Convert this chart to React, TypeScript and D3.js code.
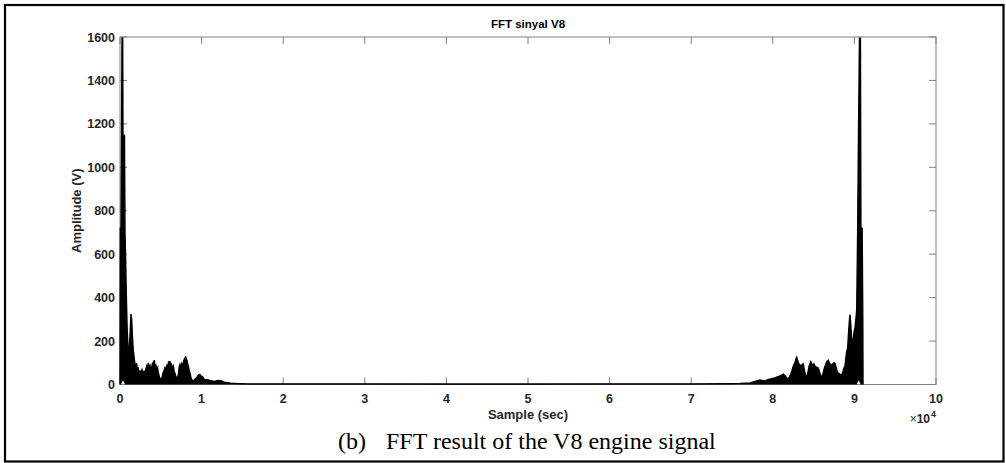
import React from 'react';
import * as d3 from 'd3';

// Upper envelope of the FFT magnitude (sample index, amplitude V)
const upperX = [
  0, 37, 123, 200, 245, 330, 368, 450, 550, 613, 700, 770, 860, 940, 1017, 1100, 1225, 1348, 1430, 1510,
  1630, 1780, 1900, 2047, 2130, 2200, 2330, 2451, 2580, 2700, 2850, 2950, 3064, 3170, 3270, 3370, 3468,
  3570, 3680, 3780, 3885, 3960, 4040, 4120, 4203, 4300, 4410, 4520, 4620, 4680, 4740, 4820, 4902, 5000,
  5110, 5190, 5270, 5400, 5515, 5640, 5760, 5850, 5940, 6030, 6127, 6220, 6310, 6420, 6532, 6640, 6740,
  6850, 6949, 7050, 7150, 7250, 7353, 7450, 7560, 7650, 7757, 7830, 7900, 7980, 8052, 8130, 8210, 8290,
  8370, 8480, 8580, 8680, 8787, 8900, 9070, 9200, 9400, 9520, 9620, 9720, 9804, 9950, 10110, 10250, 10417,
  10700, 11030, 11300, 11642, 11850, 12010, 12250, 12463, 12650, 12870, 13050, 13235, 13600, 14090, 14500,
  14914, 15700, 16544, 20000, 30000, 40000, 50000, 60000, 70000, 74500, 75981, 77207,
  78432, 78800, 79050, 79350, 79658, 80000, 80250, 80479, 80800, 81050, 81288, 81500, 81700, 81900, 82050,
  82200, 82350, 82513, 82700, 82850, 82929, 83050, 83200, 83334, 83450, 83600, 83738, 83850, 84000, 84153,
  84300, 84450, 84644, 84800, 84950, 85050, 85172, 85350, 85450, 85576, 85750, 85870, 85993, 86150, 86280,
  86397, 86550, 86680, 86802, 86950, 87100, 87218, 87400, 87500, 87623, 87800, 87900, 88028, 88200, 88300,
  88444, 88600, 88700, 88848, 88950, 89050, 89179, 89300, 89400, 89462, 89550, 89650, 89742, 89850, 89950,
  90074, 90180, 90280, 90400, 90500, 90620, 90740, 90800, 90950, 91030, 91060,
];
const upperY = [
  0, 720, 720, 1240, 1595, 1595, 1148, 1148, 1148, 700, 560, 420, 280, 200, 127, 150, 230, 324, 300, 230,
  158, 110, 75, 98, 65, 80, 55, 62, 50, 68, 48, 60, 52, 72, 85, 70, 100,
  80, 88, 65, 78, 95, 100, 88, 112, 80, 88, 70, 78, 55, 50, 35, 30, 25,
  22, 40, 52, 65, 78, 70, 88, 80, 100, 92, 108, 85, 92, 75, 85, 60, 52,
  35, 28, 35, 45, 80, 92, 78, 95, 85, 100, 112, 118, 110, 130, 115, 112, 95,
  85, 65, 52, 35, 22, 20, 18, 25, 32, 38, 44, 40, 46, 38, 36, 28, 22,
  22, 19, 16, 14, 17, 19, 18, 17, 12, 10, 9, 8, 6, 5, 4,
  4, 3, 3, 3, 3, 2, 2, 3, 3, 4, 5, 7,
  21, 18, 16, 22, 25, 28, 30, 34, 38, 42, 48, 40, 30, 26, 35,
  48, 65, 85, 100, 120, 126, 110, 95, 90, 80, 92, 96, 70, 45, 32,
  55, 85, 105, 95, 88, 95, 84, 80, 78, 76, 55, 40, 34, 50, 70,
  84, 100, 108, 112, 98, 92, 90, 96, 100, 98, 75, 58, 52, 48, 42,
  45, 60, 75, 85, 120, 150, 170, 250, 300, 322, 280, 220, 190, 200, 240,
  262, 300, 343, 710, 1148, 1594, 1594, 720, 720, 300, 0,
];

// Lower envelope (small gaps above zero next to the two main peaks)
const lowerX = [0, 123, 368, 613, 90280, 90525, 90770, 91060];
const lowerY = [0, 0, 20, 0, 0, 20, 0, 0];

const yTicks = [0, 200, 400, 600, 800, 1000, 1200, 1400, 1600];
const xTicks = [0, 10000, 20000, 30000, 40000, 50000, 60000, 70000, 80000, 90000, 100000];
const xTickLabels = ['0', '1', '2', '3', '4', '5', '6', '7', '8', '9', '10'];

const titleText = 'FFT sinyal V8';
const xLabel = 'Sample (sec)';
const yLabel = 'Amplitude (V)';
const captionTag = '(b)';
const captionText = 'FFT result of the V8 engine signal';

export default function App() {
  const W = 1006;
  const H = 463;
  const L = 120, R = 936, T = 37, B = 384.5;
  const x = d3.scaleLinear().domain([0, 100000]).range([L, R]);
  const y = d3.scaleLinear().domain([0, 1600]).range([B, T]);

  const upper = upperX.map((v, i) => [v, upperY[i]] as [number, number]);
  const lower = lowerX.map((v, i) => [v, lowerY[i]] as [number, number]).reverse();
  const poly = upper.concat(lower);
  const line = d3.line<[number, number]>().x(d => x(d[0])).y(d => y(d[1]));
  const areaPath = line(poly) + 'Z';
  const upperPath = line(upper) as string;

  const axisColor = '#808080';
  const textColor = '#262626';
  const font = 'Liberation Sans, Arial, Helvetica, sans-serif';
  const tickLen = 7;

  return (
    <svg width={W} height={H} style={{ position: 'absolute', left: 0, top: 0, background: '#fff' }}>
      <rect x={0} y={0} width={W} height={H} fill="#fff" />
      {/* outer frame */}
      <rect x={5} y={5} width={998.5} height={456.5} fill="none" stroke="#000" strokeWidth={2.2} />

      {/* axes box */}
      <g stroke={axisColor} strokeWidth={1} fill="none">
        <rect x={L} y={T} width={R - L} height={B - T} />
        {xTicks.map((t, i) => (
          <g key={'xt' + i}>
            <line x1={x(t)} x2={x(t)} y1={B} y2={B - tickLen} />
            <line x1={x(t)} x2={x(t)} y1={T} y2={T + tickLen} />
          </g>
        ))}
        {yTicks.map((t, i) => (
          <g key={'yt' + i}>
            <line x1={L} x2={L + tickLen} y1={y(t)} y2={y(t)} />
            <line x1={R} x2={R - tickLen} y1={y(t)} y2={y(t)} />
          </g>
        ))}
      </g>

      {/* data */}
      <path d={areaPath} fill="#000" stroke="none" />
      <path d={upperPath} fill="none" stroke="#000" strokeWidth={1.4} strokeLinejoin="miter" />

      {/* tick labels */}
      <g fontFamily={font} fontWeight="bold" fontSize={12.5} fill={textColor}>
        {yTicks.map((t, i) => (
          <text key={'yl' + i} x={L - 5} y={y(t) + 4.5} textAnchor="end">{t}</text>
        ))}
        {xTicks.map((t, i) => (
          <text key={'xl' + i} x={x(t)} y={B + 18} textAnchor="middle">{xTickLabels[i]}</text>
        ))}
      </g>

      {/* exponent */}
      <g fontFamily={font} fill={textColor}>
        <text x={930} y={423} textAnchor="end" fontSize={12}>
          <tspan fontWeight="normal">×</tspan><tspan fontWeight="bold">10</tspan>
        </text>
        <text x={931} y={417} fontSize={9} fontWeight="bold">4</text>
      </g>

      {/* title and axis labels */}
      <text x={(L + R) / 2} y={28} textAnchor="middle" fontFamily={font} fontWeight="bold" fontSize={11.5} fill="#000">{titleText}</text>
      <text x={(L + R) / 2} y={419} textAnchor="middle" fontFamily={font} fontWeight="bold" fontSize={13} fill={textColor}>{xLabel}</text>
      <text transform={`translate(81,${(T + B) / 2}) rotate(-90)`} textAnchor="middle" fontFamily={font} fontWeight="bold" fontSize={13} fill={textColor}>{yLabel}</text>

      {/* caption */}
      <g fontFamily="Liberation Serif, Times New Roman, serif" fontSize={24} fill="#000">
        <text x={338} y={449}>{captionTag}</text>
        <text x={386} y={449}>{captionText}</text>
      </g>
    </svg>
  );
}
